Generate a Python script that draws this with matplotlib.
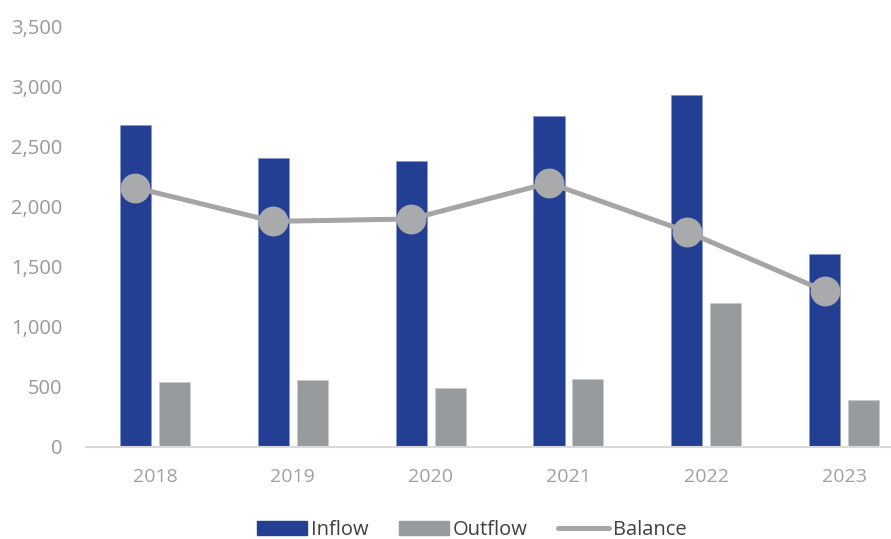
import matplotlib
matplotlib.use("Agg")
import matplotlib.pyplot as plt
import numpy as np
from matplotlib.lines import Line2D
from matplotlib.patches import Patch

years = ["2018", "2019", "2020", "2021", "2022", "2023"]
inflow = [2685, 2405, 2380, 2755, 2930, 1610]
outflow = [545, 555, 490, 565, 1200, 395]
balance = [2160, 1880, 1900, 2200, 1795, 1300]

plt.rcParams["font.family"] = ["Open Sans", "DejaVu Sans"]

BLUE = "#233F94"
GREY_BAR = "#989B9E"
GREY_LINE = "#A5A5A5"
GREY_MARK = "#A9AAAC"
TEXT = "#999999"

fig = plt.figure(figsize=(8.91, 5.39), dpi=100)
ax = fig.add_axes([0.0965, 0.1707, 0.9035, 0.7793])

x = np.arange(len(years))
w = 0.225
off = 0.141
ax.bar(x - off, inflow, width=w, color=BLUE, edgecolor="#8A9AD0", linewidth=0.6, zorder=2)
ax.bar(x + off, outflow, width=w, color=GREY_BAR, edgecolor="#C8CACC", linewidth=0.6, zorder=2)
# balance line sits over the inflow bars
ax.plot(x - off, balance, color=GREY_LINE, linewidth=3.6, marker="o", markersize=20.5,
        markerfacecolor=GREY_MARK, markeredgecolor=GREY_MARK, zorder=3)

ax.set_xlim(-0.5, 5.34)
ax.set_ylim(0, 3500)
ax.set_yticks(np.arange(0, 3501, 500))
ax.set_yticklabels([f"{v:,}" for v in range(0, 3501, 500)])
ax.set_xticks(x)
ax.set_xticklabels(years)
ax.tick_params(axis="y", length=0, pad=17, labelsize=14.5, labelcolor=TEXT)
ax.tick_params(axis="x", length=0, pad=15, labelsize=14, labelcolor="#A0A0A0")

for s in ["top", "right", "left"]:
    ax.spines[s].set_visible(False)
ax.spines["bottom"].set_color("#D9D9D9")
ax.spines["bottom"].set_linewidth(1.5)

handles = [
    Patch(facecolor=BLUE, edgecolor=BLUE),
    Patch(facecolor=GREY_BAR, edgecolor=GREY_BAR),
    Line2D([0], [0], color=GREY_LINE, linewidth=3.6, solid_capstyle="round"),
]
fig.legend(handles, ["Inflow", "Outflow", "Balance"], loc="center",
           bbox_to_anchor=(0.529, 0.016), ncol=3, frameon=False, fontsize=14.5,
           handlelength=2.5, handleheight=0.7, handletextpad=0.2, columnspacing=1.5,
           labelcolor="#404040")

fig.savefig("out.png", dpi=100, facecolor="white")
